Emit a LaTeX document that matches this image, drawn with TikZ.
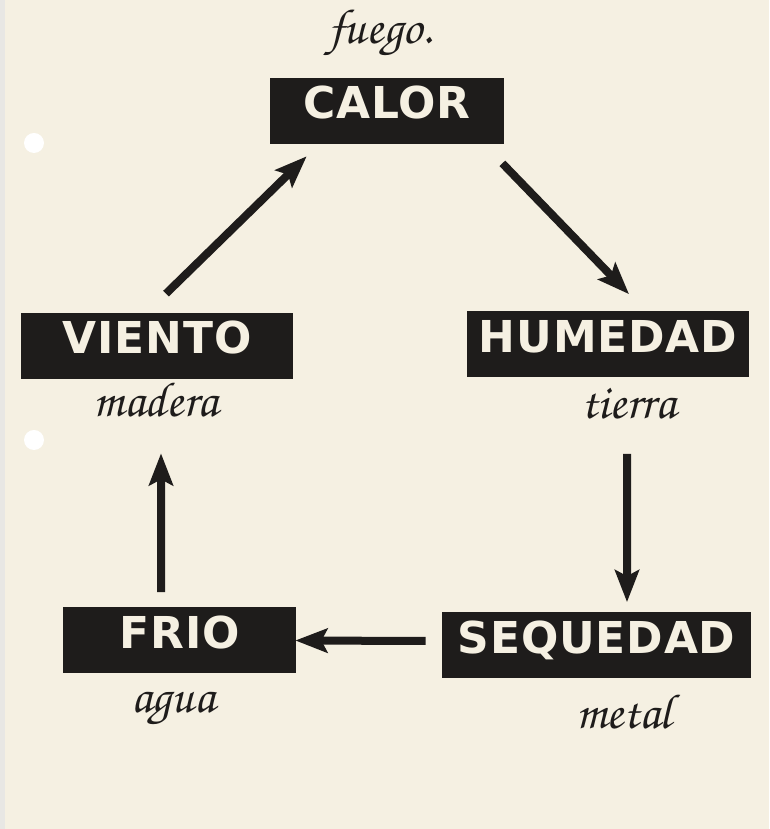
\documentclass[tikz,border=0pt]{standalone}
\usepackage[T1]{fontenc}
\usepackage{fontspec}
\newfontfamily\cajafont[LetterSpace=2]{DejaVu Sans}
\newcommand{\manoletra}{\fontencoding{T1}\fontfamily{pzc}\fontseries{mb}\fontshape{it}\selectfont}
\usetikzlibrary{arrows.meta, positioning}

\definecolor{papel}{RGB}{245,240,226}
\definecolor{borde}{RGB}{232,231,228}
\definecolor{tinta}{RGB}{30,28,27}

\tikzset{
    caja/.style={fill=tinta, text=papel, font=\cajafont\bfseries\fontsize{25}{25}\selectfont,
        inner xsep=0pt, inner ysep=0pt, text height=0.82cm, text depth=0.5cm},
    mano/.style={text=tinta, font=\manoletra\fontsize{28}{28}\selectfont},
    flecha/.style={draw=tinta, line width=0.16cm,
        -{Stealth[length=0.64cm, width=0.48cm, inset=0.12cm]}}
}

\begin{document}
\begin{tikzpicture}

    % Paper
    \fill[papel] (0cm,0cm) rectangle (15.38cm,16.58cm);
    \fill[borde] (0cm,0cm) rectangle (0.1cm,16.58cm);
    \fill[white] (0.68cm,13.72cm) circle (0.2cm);
    \fill[white] (0.68cm,7.78cm) circle (0.2cm);

    % Boxes
    \node[caja, minimum width=4.68cm] (calor) at (7.74cm, 14.36cm) {CALOR};
    \node[caja, minimum width=5.44cm] (viento) at (3.14cm, 9.66cm) {VIENTO};
    \node[caja, minimum width=5.64cm] (humedad) at (12.16cm, 9.69cm) {HUMEDAD};
    \node[caja, minimum width=4.66cm] (frio) at (3.59cm, 3.77cm) {FRIO};
    \node[caja, minimum width=6.18cm] (sequedad) at (11.93cm, 3.67cm) {SEQUEDAD};

    % Elements
    \node[mano] (fuego) at (7.6cm, 15.9cm) {fuego.};
    \node[mano] (madera) at (3.12cm, 8.6cm) {madera};
    \node[mano] (tierra) at (12.58cm, 8.5cm) {tierra};
    \node[mano] (agua) at (3.46cm, 2.4cm) {agua};
    \node[mano] (metal) at (12.48cm, 2.36cm) {metal};

    % Cycle
    \draw[flecha] ([shift={(0.18,0.38)}]viento.north) -- ([shift={(0.74,-0.24)}]calor.south west);
    \draw[flecha] ([shift={(-0.04,-0.38)}]calor.south east) -- ([shift={(0.42,0.34)}]humedad.north);
    \draw[flecha] ([shift={(0.38,-1.52)}]humedad.south) -- ([shift={(0.61,0.2)}]sequedad.north);
    \draw[flecha] ([shift={(-0.32,0.09)}]sequedad.west) -- ([shift={(-0.02,0)}]frio.east);
    \draw[flecha] ([shift={(-0.37,0.30)}]frio.north) -- ([shift={(0.08,-1.48)}]viento.south);

\end{tikzpicture}
\end{document}
